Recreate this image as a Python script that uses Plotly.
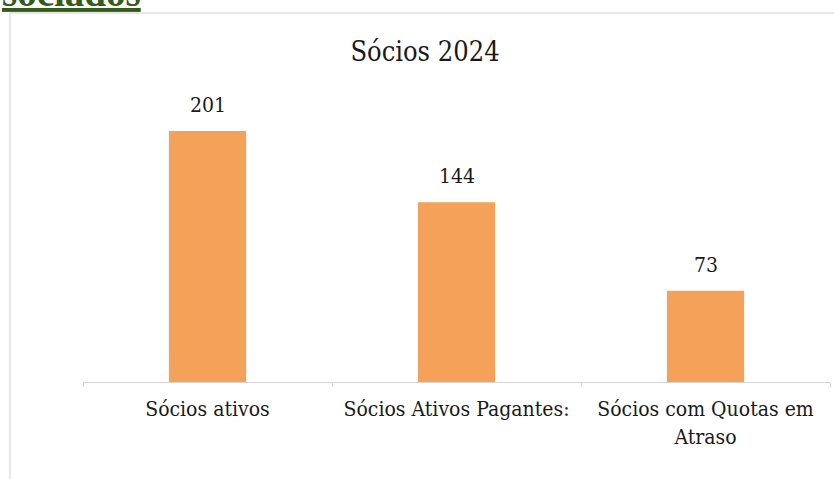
import plotly.graph_objects as go

categories = ["Sócios ativos", "Sócios Ativos Pagantes:", "Sócios com Quotas em<br>Atraso"]
values = [201, 144, 73]
title_text = "Sócios 2024"
heading_text = "sociados"

W, H = 834, 479
L, R, T, B = 83, 4, 80, 97
pw, ph = W - L - R, H - T - B

def px_to_paper_x(px):
    return (px - L) / pw

def px_to_paper_y(py):
    return (H - B - py) / ph

bar_color = "#F4A259"
font_family = "DejaVu Serif Condensed, DejaVu Serif, serif"

fig = go.Figure()
fig.add_trace(go.Bar(
    x=categories, y=values, width=0.31,
    marker=dict(color=bar_color, line=dict(width=0)),
    hoverinfo="skip",
))

annotations = []
for c, v in zip(categories, values):
    annotations.append(dict(
        x=c, y=v, xref="x", yref="y", text=str(v), showarrow=False,
        yanchor="bottom", yshift=12,
        font=dict(family=font_family, size=21, color="#1a1a1a"),
    ))
annotations.append(dict(
    x=px_to_paper_x(0), y=px_to_paper_y(16), xref="paper", yref="paper",
    xanchor="left", yanchor="bottom", showarrow=False,
    text="<b><u>" + heading_text + "</u></b>",
    font=dict(family="Liberation Serif", size=39, color="#345a1c"),
))

shapes = [dict(
    type="rect", xref="paper", yref="paper",
    x0=px_to_paper_x(10), x1=px_to_paper_x(845),
    y0=px_to_paper_y(500), y1=px_to_paper_y(13),
    line=dict(color="#cfcfcf", width=1), fillcolor="rgba(0,0,0,0)",
)]

fig.update_layout(
    width=W, height=H,
    margin=dict(l=L, r=R, t=T, b=B, pad=0),
    paper_bgcolor="white", plot_bgcolor="white",
    showlegend=False,
    title=dict(text=title_text, x=425 / W, xanchor="center",
               y=1 - 52 / H, yanchor="middle",
               font=dict(family=font_family, size=27, color="#1a1a1a")),
    xaxis=dict(showline=True, linecolor="#d4d4d4", linewidth=1,
               ticks="outside", tickson="boundaries", ticklen=4, tickcolor="#d4d4d4",
               tickfont=dict(family=font_family, size=21, color="#1a1a1a"),
               ticklabelstandoff=8,
               showgrid=False, fixedrange=True),
    yaxis=dict(range=[0, ph / (251 / 201)], visible=False, showgrid=False,
               zeroline=False, fixedrange=True),
    annotations=annotations,
    shapes=shapes,
)

fig.write_html("out.html", config={"displayModeBar": False},
               post_script="document.body.style.margin='0';document.body.style.overflow='hidden';")
